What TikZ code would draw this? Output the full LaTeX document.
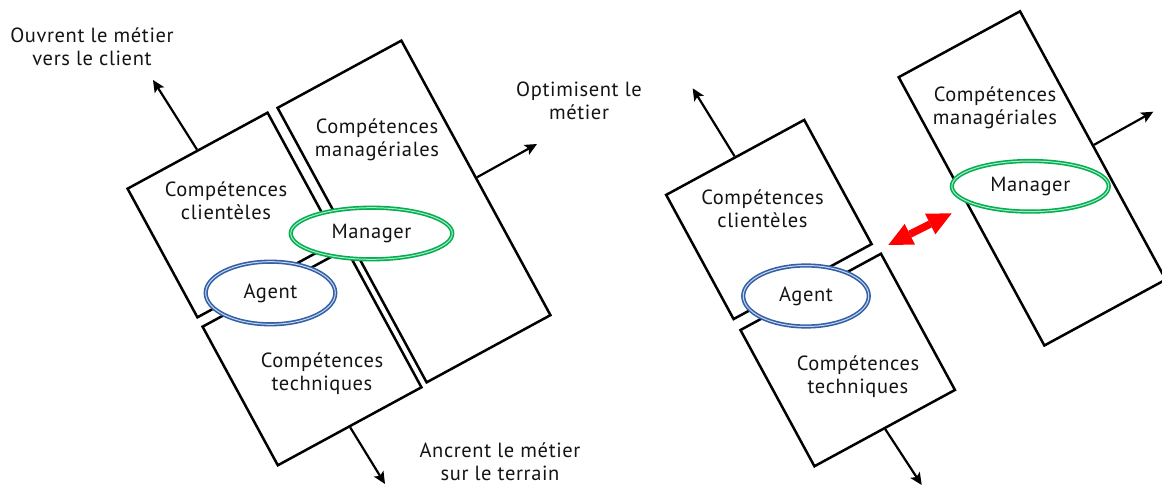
\documentclass[tikz,border=0pt]{standalone}
\usepackage{fontspec}
\setmainfont[LetterSpace=3]{PT Sans}
\usetikzlibrary{arrows.meta,shapes.geometric}
\definecolor{mgreen}{RGB}{0,176,80}
\definecolor{mblue}{RGB}{50,96,168}
\definecolor{mtext}{RGB}{20,20,20}
\tikzset{
  comp/.style={rectangle, draw=black, fill=white, line width=2.5pt, rotate=28.5, inner sep=0pt},
  lbl/.style={align=center, font=\fontsize{20.5}{23}\selectfont, text=mtext, inner sep=0pt},
  outarrow/.style={-{Stealth[length=12pt,width=11pt,inset=2.5pt]}, line width=2.2pt},
  oval/.style={ellipse, fill=white, line width=1.6pt, double distance=1pt, inner sep=0pt, font=\fontsize{20.5}{23}\selectfont, text=mtext},
  mgr/.style={oval, draw=mgreen, double=mgreen!30!white},
  agt/.style={oval, draw=mblue, double=mblue!25!white},
  link/.style={red, line width=7.5pt, {Triangle[length=24pt,width=23pt,line width=0pt]}-{Triangle[length=24pt,width=23pt,line width=0pt]}}
}
\begin{document}
\begin{tikzpicture}[x=1pt,y=-1pt]
\useasboundingbox (0,0) rectangle (1162,486);
% ---------- left diagram ----------
\node[comp, minimum width=159.3pt, minimum height=146.4pt] (Lcli) at (232.5,215) {};
\node[comp, minimum width=140.9pt, minimum height=312.4pt] (Lman) at (414,211.5) {};
\node[comp, minimum width=163.4pt, minimum height=157.7pt] (Ltec) at (312,357) {};
\coordinate (LcliT) at (153,80);
\coordinate (LmanT) at (537,144);
\coordinate (LtecT) at (385,484);
\draw[outarrow] (Lcli.north) -- (LcliT);
\draw[outarrow] (Lman.east) -- (LmanT);
\draw[outarrow] (Ltec.south) -- (LtecT);
\node[lbl] (LcliL) at (226,201) {Compétences\\clientèles};
\node[lbl] (LmanL) at (377,139.5) {Compétences\\managériales};
\node[lbl] (LtecL) at (322,374) {Compétences\\techniques};
\node[agt, minimum width=129.6pt, minimum height=62.6pt] (Lagt) at (270.5,293) {Agent};
\node[mgr, minimum width=161.6pt, minimum height=51.6pt] (Lmgr) at (371.5,233.5) {Manager};
\node[lbl] (LtxtA) at (92,46.5) {Ouvrent le métier\\vers le client};
\node[lbl] (LtxtB) at (579,101) {Optimisent le\\métier};
\node[lbl] (LtxtC) at (500,462) {Ancrent le métier\\sur le terrain};
% ---------- right diagram ----------
\node[comp, minimum width=157.1pt, minimum height=141.3pt] (Rcli) at (768.9,219.5) {};
\node[comp, minimum width=159.9pt, minimum height=155pt] (Rtec) at (847.7,360) {};
\node[comp, minimum width=138.1pt, minimum height=305.3pt] (Rman) at (1032.2,178.4) {};
\coordinate (RcliT) at (692.7,88.3);
\coordinate (RmanT) at (1153.3,111.7);
\coordinate (RtecT) at (921.7,485);
\draw[outarrow] (Rcli.north) -- (RcliT);
\draw[outarrow] (Rman.east) -- (RmanT);
\draw[outarrow] (Rtec.south) -- (RtecT);
\node[lbl] (RcliL) at (762.5,209) {Compétences\\clientèles};
\node[lbl] (RtecL) at (858,377) {Compétences\\techniques};
\node[lbl] (RmanL) at (995,107.5) {Compétences\\managériales};
\node[agt, minimum width=125.6pt, minimum height=61pt] (Ragt) at (806,296) {Agent};
\node[mgr, minimum width=157pt, minimum height=50.6pt] (Rmgr) at (1030.3,186.3) {Manager};
\coordinate (RlinkA) at (888.3,245);
\coordinate (RlinkB) at (951.7,213.3);
\draw[link] (RlinkA) -- (RlinkB);
\end{tikzpicture}
\end{document}
